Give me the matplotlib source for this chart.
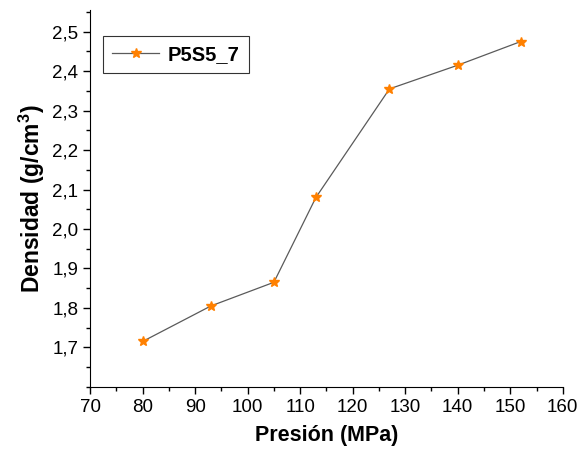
import matplotlib
matplotlib.use("Agg")
import matplotlib.pyplot as plt
from matplotlib.ticker import MultipleLocator, FuncFormatter

plt.rcParams['font.family'] = ['Liberation Sans', 'DejaVu Sans']

# data
presion = [80, 93, 105, 113, 127, 140, 152]
densidad = [1.715, 1.805, 1.865, 2.08, 2.355, 2.415, 2.475]
serie = 'P5S5_7'

fig = plt.figure(figsize=(5.85, 4.53), dpi=100)
ax = fig.add_axes([0.154, 0.146, 0.808, 0.832])

ax.plot(presion, densidad, color='#5a5a5a', lw=0.9,
        marker='*', ms=7.5, mfc='#ff8000', mec='#ff8000', label=serie)

ax.set_xlim(70, 160)
ax.set_ylim(1.6, 2.555)
ax.xaxis.set_major_locator(MultipleLocator(10))
ax.xaxis.set_minor_locator(MultipleLocator(5))
ax.yaxis.set_minor_locator(MultipleLocator(0.05))
ax.set_yticks([1.7, 1.8, 1.9, 2.0, 2.1, 2.2, 2.3, 2.4, 2.5])
ax.yaxis.set_major_formatter(FuncFormatter(lambda v, p: f'{v:.1f}'.replace('.', ',')))

# only left/bottom axes like the Origin export
for s in ['top', 'right']:
    ax.spines[s].set_visible(False)
ax.tick_params(which='major', direction='out', length=5, width=1, labelsize=13.5)
ax.tick_params(which='minor', direction='out', length=3, width=1)

ax.set_xlabel('Presión (MPa)', fontsize=15.5, fontweight='bold', labelpad=7)
ax.set_ylabel('Densidad (g/cm$^\\mathregular{3}$)', fontsize=16.5, fontweight='bold', labelpad=4)

leg = ax.legend(loc='upper left', bbox_to_anchor=(0.028, 0.93), fancybox=False,
                edgecolor='black', prop={'size': 14.5, 'weight': 'bold'},
                handlelength=2.3, borderpad=0.45, borderaxespad=0,
                handletextpad=0.45)
leg.get_frame().set_linewidth(0.8)

fig.savefig('out.png', dpi=100)
